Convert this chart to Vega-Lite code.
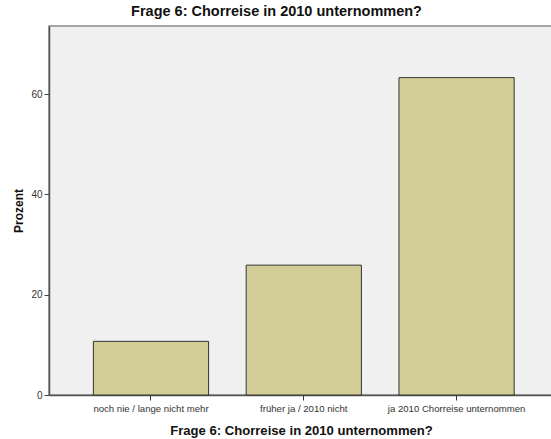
{
  "$schema": "https://vega.github.io/schema/vega-lite/v6.json",
  "autosize": {"type": "none"},
  "width": 503,
  "height": 369,
  "padding": {"left": 49, "top": 26, "right": 0, "bottom": 44},
  "background": "white",
  "config": {
    "font": "Liberation Sans",
    "view": {"fill": "#F0F0F0", "stroke": "#8a8a8a", "strokeWidth": 1.5}
  },
  "title": {
    "text": "Frage 6: Chorreise in 2010 unternommen?",
    "fontSize": 14.5,
    "fontWeight": "bold",
    "color": "#111",
    "anchor": "middle",
    "frame": "group",
    "dx": -24,
    "offset": 7
  },
  "data": {
    "values": [
      {"kategorie": "noch nie / lange nicht mehr", "prozent": 10.7},
      {"kategorie": "früher ja / 2010 nicht", "prozent": 25.9},
      {"kategorie": "ja 2010 Chorreise unternommen", "prozent": 63.3}
    ]
  },
  "mark": {"type": "bar", "fill": "#D3CE98", "stroke": "#333333", "strokeWidth": 1},
  "encoding": {
    "x": {
      "field": "kategorie",
      "type": "nominal",
      "sort": null,
      "scale": {"paddingInner": 0.246, "paddingOuter": 0.269, "align": 0.54},
      "axis": {
        "title": "Frage 6: Chorreise in 2010 unternommen?",
        "titleFontSize": 13.1,
        "titleFontWeight": "bold",
        "titleColor": "#111",
        "titleX": 252,
        "titleY": 35,
        "titleBaseline": "middle",
        "titleAnchor": null,
        "labelAngle": 0,
        "labelFontSize": 9.6,
        "labelColor": "#333",
        "labelPadding": 3,
        "tickSize": 5,
        "tickColor": "#333",
        "domainColor": "#555",
        "domainWidth": 1.5
      }
    },
    "y": {
      "field": "prozent",
      "type": "quantitative",
      "scale": {"domain": [0, 73.6], "nice": false},
      "axis": {
        "title": "Prozent",
        "titleFontSize": 12,
        "titleFontWeight": "bold",
        "titleColor": "#111",
        "titleX": -31,
        "titleY": 184.5,
        "titleAngle": -90,
        "titleBaseline": "middle",
        "titleAnchor": null,
        "values": [0, 20, 40, 60],
        "grid": false,
        "labelFontSize": 10,
        "labelColor": "#333",
        "labelPadding": 2,
        "tickSize": 5,
        "tickColor": "#444",
        "domainColor": "#555",
        "domainWidth": 1.5
      }
    }
  }
}
